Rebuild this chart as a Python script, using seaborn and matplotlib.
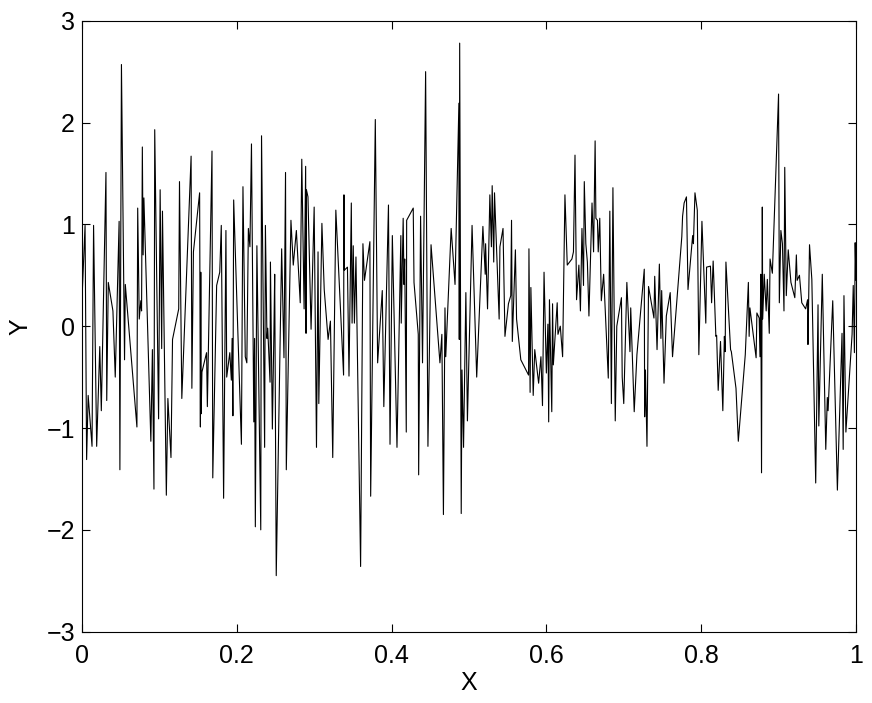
import numpy as np
import pandas as pd
import matplotlib
matplotlib.use('Agg')
import matplotlib.pyplot as plt
import seaborn as sns

# valores, por tramos
x_1 = [0.000, 0.004, 0.006, 0.008, 0.013, 0.015, 0.019, 0.023, 0.025, 0.031, 0.032, 0.034, 0.040, 0.043, 0.048, 0.049,
       0.051, 0.055, 0.056, 0.071, 0.072, 0.074, 0.076, 0.077, 0.078, 0.079, 0.080, 0.089, 0.091, 0.093, 0.094]
y_1 = [0.26, 0.99, -1.31, -0.68, -1.18, 0.99, -1.18, -0.20, -0.83, 1.51, -0.73, 0.43, 0.15, -0.50, 1.03, -1.41,
       2.57, -0.33, 0.41, -0.99, 1.16, 0.07, 0.25, 0.15, 1.76, 0.70, 1.26, -1.13, -0.23, -1.60, 1.93]

x_2 = [0.099, 0.101, 0.103, 0.104, 0.109, 0.111, 0.115, 0.117, 0.125, 0.126, 0.129, 0.141, 0.142, 0.144, 0.152, 0.153,
       0.1535, 0.154, 0.155, 0.161, 0.162, 0.168, 0.169, 0.174, 0.178, 0.180, 0.183, 0.186, 0.187, 0.191, 0.193, 0.194,
       0.195, 0.196]
y_2 = [-0.91, 1.34, -0.22, 1.13, -1.66, -0.71, -1.29, -0.13, 0.17, 1.42, -0.71, 1.67, -0.61, 0.73, 1.31, -0.99,
       0.53, -0.86, -0.45, -0.26, -0.79, 1.72, -1.49, 0.40, 0.53, 0.99, -1.69, 0.94, -0.50, -0.26, -0.53, -0.12,
       -0.88, 1.24]

x_3 = [0.206, 0.208, 0.211, 0.213, 0.215, 0.217, 0.219, 0.222, 0.223, 0.224, 0.226, 0.231, 0.232, 0.236, 0.237, 0.239,
       0.240, 0.243, 0.2435, 0.246, 0.248, 0.249, 0.251, 0.258, 0.261, 0.263, 0.264, 0.270, 0.273, 0.277, 0.282, 0.284,
       0.287, 0.289, 0.2895, 0.290]
y_3 = [-1.16, 1.37, -0.30, -0.36, 0.96, 0.78, 1.79, -0.94, -0.12, -1.97, 0.79, -2.00, 1.87, -1.19, 0.99, -0.12,
       -0.02, -0.55, 0.63, -1.01, -0.05, 0.51, -2.45, 0.76, -0.31, 1.51, -1.41, 1.04, 0.60, 0.94, 0.23, 1.64,
       0.17, 1.57, -0.07, 1.34]

x_4 = [0.292, 0.296, 0.300, 0.303, 0.305, 0.306, 0.310, 0.313, 0.318, 0.321, 0.324, 0.328, 0.338, 0.3385, 0.339, 0.343,
       0.345, 0.348, 0.349, 0.3505, 0.352, 0.354, 0.360, 0.363, 0.365, 0.372, 0.373, 0.379, 0.382, 0.388, 0.390]
y_4 = [1.27, -0.03, 1.17, -1.19, 0.73, -0.76, 1.01, 0.36, -0.13, 0.05, -1.29, 1.14, -0.48, 1.29, 0.55, 0.58,
       -0.49, 1.21, 0.03, 0.79, 0.03, 0.68, -2.36, 0.81, 0.45, 0.83, -1.67, 2.03, -0.36, 0.35, -0.79]

x_5 = [0.396, 0.398, 0.401, 0.407, 0.412, 0.4125, 0.415, 0.416, 0.417, 0.419, 0.4195, 0.428, 0.429, 0.4345, 0.435,
       0.4375, 0.440, 0.443, 0.444, 0.447, 0.451, 0.4625, 0.465, 0.467, 0.469, 0.470, 0.477, 0.482, 0.487, 0.4875]
y_5 = [1.19, -1.16, 0.89, -1.19, 0.89, 0.03, 1.06, 0.41, 0.66, -1.04, 1.04, 1.16, 0.43, -0.08, -1.46,
       1.08, -0.36, 1.82, 2.50, -1.18, 0.80, -0.36, -0.08, -1.85, 0.18, -0.30, 0.96, 0.41, 2.19, -0.13]

x_6 = [0.488, 0.490, 0.491, 0.493, 0.496, 0.498, 0.504, 0.510, 0.518, 0.521, 0.5215, 0.524, 0.527, 0.529, 0.530, 0.532,
       0.533, 0.539, 0.540, 0.544, 0.5465, 0.551, 0.554, 0.555, 0.556, 0.560, 0.5615, 0.567, 0.577, 0.5775, 0.579,
       0.580, 0.583, 0.585]
y_6 = [2.78, -1.84, -0.43, -1.19, 0.33, -0.93, 0.99, -0.50, 0.98, 0.51, 0.81, 0.17, 1.29, 0.78, 1.38, 0.63,
       1.31, 0.07, 0.78, 0.96, -0.10, 0.22, 0.30, 1.04, -0.15, 0.75, 0.07, -0.33, -0.48, 0.76, -0.65,
       0.38, -0.68, -0.23]

x_7 = [0.590, 0.593, 0.595, 0.597, 0.600, 0.602, 0.603, 0.604, 0.607, 0.608, 0.609, 0.614, 0.615, 0.618, 0.621, 0.624,
       0.627, 0.633, 0.635, 0.637, 0.639, 0.642, 0.644, 0.646, 0.648, 0.649, 0.651, 0.653, 0.655, 0.659, 0.661, 0.663,
       0.664, 0.666, 0.667, 0.669, 0.671, 0.674, 0.680, 0.682]
y_7 = [-0.56, -0.30, -0.78, 0.53, -0.46, 0.02, -0.94, 0.26, -0.84, 0.22, -0.38, 0.23, -0.08, 0.00, -0.30, 1.29,
       0.60, 0.66, 0.73, 1.68, 0.26, 0.60, 0.15, 0.96, 0.40, 1.42, 0.81, 0.63, 0.10, 1.21, 0.73, 1.82,
       1.06, 1.04, 0.73, 1.06, 0.25, 0.51, -0.51, 1.13]

x_8 = [0.684, 0.686, 0.689, 0.691, 0.697, 0.698, 0.700, 0.704, 0.708, 0.709, 0.7135, 0.717, 0.7265, 0.727, 0.728,
       0.730, 0.732, 0.739, 0.740, 0.743, 0.746, 0.748, 0.749, 0.752, 0.755, 0.760, 0.763, 0.775, 0.776, 0.778]
y_8 = [-0.76, 1.36, -0.93, 0.00, 0.28, -0.50, -0.76, 0.43, -0.25, 0.18, -0.84, -0.28, 0.56, -0.89, -0.43,
       -1.18, 0.39, 0.08, 0.49, -0.23, 0.61, -0.12, 0.35, -0.56, 0.10, 0.33, -0.30, 0.88, 1.08, 1.21]

x_9 = [0.781, 0.783, 0.789, 0.790, 0.792, 0.795, 0.797, 0.801, 0.806, 0.807, 0.812, 0.8135, 0.8155, 0.819, 0.820,
       0.822, 0.825, 0.828, 0.830, 0.831, 0.832, 0.838, 0.839, 0.845, 0.848, 0.857, 0.861, 0.862, 0.863, 0.871,
       0.872, 0.875]
y_9 = [1.27, 0.36, 0.89, 0.81, 1.31, 1.14, -0.28, 1.03, 0.03, 0.58, 0.59, 0.23, 0.64, -0.10, -0.09,
       -0.63, -0.15, -0.83, -0.10, -0.25, 0.63, -0.23, -0.25, -0.61, -1.13, -0.28, 0.43, -0.10, 0.18, -0.31,
       0.13, 0.08]

x_10 = [0.876, 0.877, 0.878, 0.879, 0.8795, 0.8815, 0.884, 0.8855, 0.888, 0.889, 0.892, 0.900, 0.901, 0.903, 0.905,
        0.907, 0.908, 0.910, 0.9125, 0.916, 0.921, 0.923, 0.924, 0.927, 0.930, 0.935, 0.9375, 0.938, 0.940, 0.943,
        0.948, 0.951, 0.952, 0.9565, 0.961, 0.963, 0.964, 0.970, 0.976, 0.982, 0.9835, 0.9845, 0.987, 0.995, 0.9965,
        0.998, 0.999, 1.000]
y_10 = [-0.30, 0.51, -1.44, 1.17, 0.07, 0.51, 0.15, 0.46, -0.07, 0.66, 0.52, 2.28, 0.23, 0.94, 0.81,
        0.15, 1.56, 0.30, 0.75, 0.43, 0.28, 0.70, 0.45, 0.50, 0.23, 0.17, 0.26, -0.18, 0.80, 0.46,
        -1.54, 0.21, -0.98, 0.51, -1.21, -0.70, -0.83, 0.25, -1.61, -0.07, -1.21, 0.30, -1.04, -0.08, 0.40,
        -0.26, 0.82, 0.45]

x_ticks = [0, 0.2, 0.4, 0.6, 0.8, 1]
x_tick_labels = ['0', '0.2', '0.4', '0.6', '0.8', '1']
y_ticks = [-3, -2, -1, 0, 1, 2, 3]

data = pd.DataFrame({
    'X': x_1 + x_2 + x_3 + x_4 + x_5 + x_6 + x_7 + x_8 + x_9 + x_10,
    'Y': y_1 + y_2 + y_3 + y_4 + y_5 + y_6 + y_7 + y_8 + y_9 + y_10,
})

sns.set_style("ticks", {"xtick.direction": "in", "ytick.direction": "in"})
plt.rcParams['font.family'] = ['Liberation Sans', 'DejaVu Sans']
plt.rcParams['xtick.top'] = True
plt.rcParams['ytick.right'] = True
plt.rcParams['text.color'] = 'black'
plt.rcParams['axes.labelcolor'] = 'black'
plt.rcParams['xtick.color'] = 'black'
plt.rcParams['ytick.color'] = 'black'

fig = plt.figure(figsize=(8.72, 7.03), dpi=100)
ax = fig.add_axes([0.094, 0.1015, 0.8876, 0.869])

sns.lineplot(data=data, x='X', y='Y', ax=ax, color='black', linewidth=0.8,
             estimator=None, sort=False)

ax.set_xlim(0, 1)
ax.set_ylim(-3, 3)
ax.set_xticks(x_ticks)
ax.set_xticklabels(x_tick_labels)
ax.set_yticks(y_ticks)
ax.tick_params(axis='both', labelsize=18, length=6, width=0.8, color='black', labelcolor='black')
ax.tick_params(axis='x', pad=9)
ax.tick_params(axis='y', pad=5)
for s in ax.spines.values():
    s.set_visible(True)
    s.set_linewidth(0.8)
    s.set_color('black')

ax.set_xlabel('X', fontsize=18, color='black')
ax.set_ylabel('Y', fontsize=18, color='black')
ax.xaxis.set_label_coords(0.5, -0.084)
ax.xaxis.label.set_verticalalignment('center')
ax.yaxis.set_label_coords(-0.080, 0.5)
ax.yaxis.label.set_verticalalignment('center')

plt.savefig('out.png', dpi=100)
plt.close()
